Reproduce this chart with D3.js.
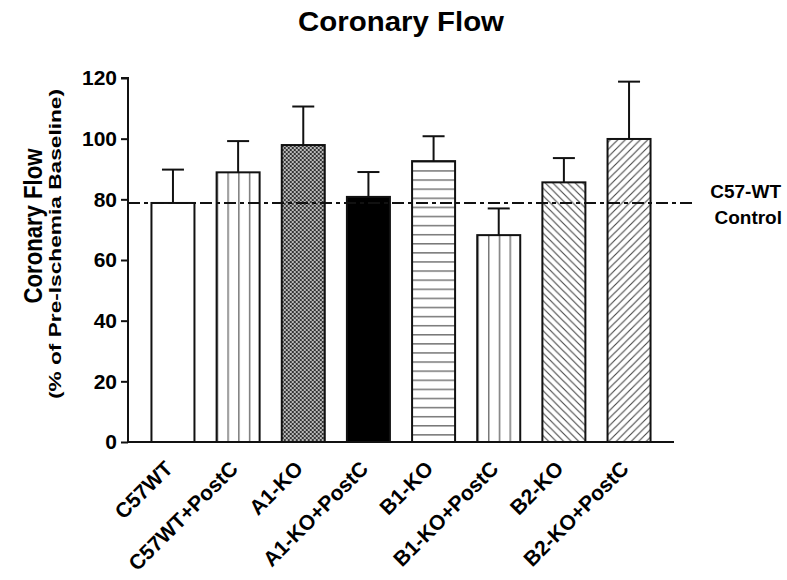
<!DOCTYPE html>
<html>
<head>
<meta charset="utf-8">
<script src="https://cdn.jsdelivr.net/npm/d3@7"></script>
<style>
  body { margin: 0; background: #fff; }
  text { font-family: "Liberation Sans", Arial, sans-serif; font-weight: bold; fill: #000; }
</style>
</head>
<body>
<svg id="chart" width="787" height="580"></svg>
<script>
// data
const groups = ['C57WT', 'C57WT+PostC', 'A1-KO', 'A1-KO+PostC', 'B1-KO', 'B1-KO+PostC', 'B2-KO', 'B2-KO+PostC']
const means = [78.8, 88.9, 97.9, 80.8, 92.6, 68.2, 85.6, 99.9]
const sems = [11.0, 10.3, 12.7, 8.2, 8.2, 8.8, 8.0, 18.9]
const controlMean = 78.8
const yTicks = [0, 20, 40, 60, 80, 100, 120]

const svg = d3.select('#chart')
const plotLeft = 128, plotRight = 674, plotTop = 78, plotBottom = 442

const x = d3.scaleBand().domain(groups).range([plotLeft, plotRight]).paddingInner(0.34).paddingOuter(0.36)
const y = d3.scaleLinear().domain([0, 120]).range([plotBottom, plotTop])

// fill style per bar
const kinds = ['white', 'vlines', 'checker', 'black', 'hlines', 'vlines', 'bslash', 'fslash']
const defs = svg.append('defs')

groups.forEach((g, i) => {
    const kind = kinds[i]
    const bx = x(g), by = y(means[i])
    let p
    if (kind === 'vlines') {
        const w = x.bandwidth() / 4
        p = defs.append('pattern').attr('id', 'p' + i).attr('patternUnits', 'userSpaceOnUse')
            .attr('x', bx).attr('y', 0).attr('width', w).attr('height', 10)
        p.append('rect').attr('width', w).attr('height', 10).attr('fill', '#fff')
        p.append('line').attr('x1', 0).attr('x2', 0).attr('y1', 0).attr('y2', 10)
            .attr('stroke', '#777').attr('stroke-width', 3)
    } else if (kind === 'hlines') {
        p = defs.append('pattern').attr('id', 'p' + i).attr('patternUnits', 'userSpaceOnUse')
            .attr('x', 0).attr('y', by).attr('width', 10).attr('height', 9.1)
        p.append('rect').attr('width', 10).attr('height', 9.1).attr('fill', '#fff')
        p.append('line').attr('x1', 0).attr('x2', 10).attr('y1', 0).attr('y2', 0)
            .attr('stroke', '#777').attr('stroke-width', 3)
    } else if (kind === 'checker') {
        p = defs.append('pattern').attr('id', 'p' + i).attr('patternUnits', 'userSpaceOnUse')
            .attr('x', bx).attr('y', by).attr('width', 4).attr('height', 4)
        p.append('rect').attr('width', 4).attr('height', 4).attr('fill', '#bbb')
        p.append('rect').attr('width', 2).attr('height', 2).attr('fill', '#333')
        p.append('rect').attr('x', 2).attr('y', 2).attr('width', 2).attr('height', 2).attr('fill', '#333')
    } else if (kind === 'bslash' || kind === 'fslash') {
        const s = 7.5
        p = defs.append('pattern').attr('id', 'p' + i).attr('patternUnits', 'userSpaceOnUse')
            .attr('x', bx).attr('y', 0).attr('width', s).attr('height', s)
        p.append('rect').attr('width', s).attr('height', s).attr('fill', '#fff')
        const d = kind === 'bslash'
            ? `M${-1},${-1}L${s + 1},${s + 1}M${-1},${s - 1}L1,${s + 1}M${s - 1},-1L${s + 1},1`
            : `M${-1},${s + 1}L${s + 1},${-1}M-1,1L1,-1M${s - 1},${s + 1}L${s + 1},${s - 1}`
        p.append('path').attr('d', d).attr('stroke', '#444').attr('stroke-width', 1.1)
    }
})

const fillFor = i => kinds[i] === 'white' ? '#fff' : kinds[i] === 'black' ? '#000' : `url(#p${i})`

// bars
svg.append('g').selectAll('rect')
    .data(groups)
    .join('rect')
    .attr('x', d => x(d))
    .attr('y', (d, i) => y(means[i]))
    .attr('width', x.bandwidth())
    .attr('height', (d, i) => y(0) - y(means[i]))
    .attr('fill', (d, i) => fillFor(i))
    .attr('stroke', '#111')
    .attr('stroke-width', 2)

// error bars (upper only)
const eb = svg.append('g').attr('stroke', '#111').attr('stroke-width', 2)
eb.selectAll('line.v')
    .data(groups)
    .join('line')
    .attr('class', 'v')
    .attr('x1', d => x(d) + x.bandwidth() / 2)
    .attr('x2', d => x(d) + x.bandwidth() / 2)
    .attr('y1', (d, i) => y(means[i]))
    .attr('y2', (d, i) => y(means[i] + sems[i]))
eb.selectAll('line.c')
    .data(groups)
    .join('line')
    .attr('class', 'c')
    .attr('x1', d => x(d) + x.bandwidth() / 2 - 11)
    .attr('x2', d => x(d) + x.bandwidth() / 2 + 11)
    .attr('y1', (d, i) => y(means[i] + sems[i]))
    .attr('y2', (d, i) => y(means[i] + sems[i]))

// control reference line
svg.append('line')
    .attr('x1', plotLeft).attr('x2', 695)
    .attr('y1', y(controlMean)).attr('y2', y(controlMean))
    .attr('stroke', '#111').attr('stroke-width', 2)
    .attr('stroke-dasharray', '12,4,4,4')

svg.append('text').attr('x', 781).attr('y', 198).attr('text-anchor', 'end')
    .style('font-size', '19px').text('C57-WT')
svg.append('text').attr('x', 782).attr('y', 224).attr('text-anchor', 'end')
    .style('font-size', '19px').text('Control')

// axes
const yAxis = d3.axisLeft(y).tickValues(yTicks).tickSize(7).tickPadding(4)
const yg = svg.append('g').attr('transform', `translate(${plotLeft},0)`).call(yAxis)
yg.selectAll('path, line').attr('stroke', '#111').attr('stroke-width', 2)
yg.selectAll('text').style('font-size', '21px').style('font-family', '"Liberation Sans", Arial, sans-serif')
    .style('font-weight', 'bold').attr('fill', '#000')
yg.select('.domain').attr('d', `M-7,${plotTop}H0V${plotBottom}`)

const xAxis = d3.axisBottom(x).tickSize(0).tickPadding(0)
const xg = svg.append('g').attr('transform', `translate(0,${plotBottom})`).call(xAxis)
xg.select('.domain').attr('stroke', '#111').attr('stroke-width', 2).attr('d', `M${plotLeft},0H${plotRight}`)
xg.selectAll('text')
    .style('font-size', '21px').style('font-family', '"Liberation Sans", Arial, sans-serif')
    .style('font-weight', 'bold').attr('fill', '#000')
    .attr('text-anchor', 'end')
    .attr('dy', null).attr('y', 0)
    .attr('transform', 'translate(1,28) rotate(-45)')

// titles
svg.append('text').attr('x', 401).attr('y', 31).attr('text-anchor', 'middle')
    .style('font-size', '28px').attr('textLength', 206).attr('lengthAdjust', 'spacingAndGlyphs')
    .text('Coronary Flow')
svg.append('text').attr('transform', 'translate(42,226) rotate(-90)').attr('text-anchor', 'middle')
    .style('font-size', '25px').attr('textLength', 155).attr('lengthAdjust', 'spacingAndGlyphs')
    .text('Coronary Flow')
svg.append('text').attr('transform', 'translate(61,244) rotate(-90)').attr('text-anchor', 'middle')
    .style('font-size', '17px').attr('textLength', 310).attr('lengthAdjust', 'spacingAndGlyphs')
    .text('(% of Pre-Ischemia Baseline)')
</script>
</body>
</html>
